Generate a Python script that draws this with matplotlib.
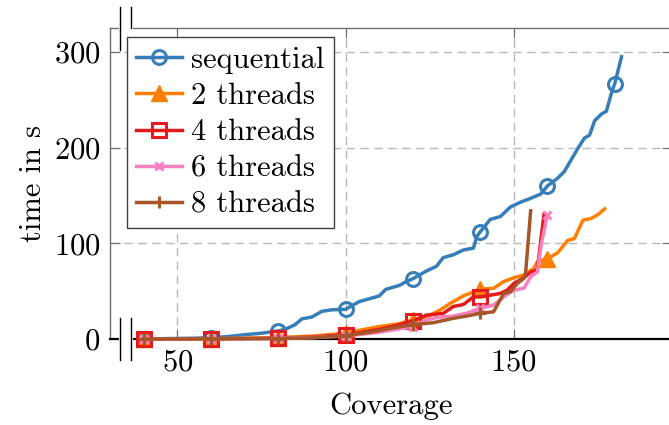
import numpy as np
import matplotlib
matplotlib.use("Agg")
import matplotlib.pyplot as plt
from matplotlib.lines import Line2D

plt.rcParams["font.family"] = "cmr10"
plt.rcParams["mathtext.fontset"] = "cm"
plt.rcParams["axes.formatter.use_mathtext"] = True

# run time over coverage
seq_x = [40, 45, 50, 55, 60, 65, 70, 75, 80, 82, 85, 87, 90, 93, 96, 100, 102, 104,
         106, 108, 110, 112, 114, 116, 118, 120, 122, 124, 127, 129, 132, 135, 138,
         139, 140, 143, 146, 149, 152, 155, 158, 160, 163, 165, 167, 169, 171, 172.5,
         174, 176, 177.5, 179, 180, 182]
seq_t = [0, 0.3, 0.6, 0.8, 1.3, 2.5, 4.5, 6, 8.5, 10, 15, 21, 23, 29, 30.5, 31, 35, 39,
         41, 43, 45, 52, 54, 56, 60, 63, 67, 71, 76, 85, 88, 93, 95,
         107, 112, 125, 128, 138, 143, 147, 151.5, 160, 168, 175, 187, 199, 210, 213,
         228, 235, 238, 257, 267, 295]

t2_x = [40, 50, 60, 70, 80, 90, 95, 100, 104, 110, 116, 120, 124, 128, 131, 135, 140,
        144, 147, 150, 153, 156, 157, 160, 163, 166, 168, 170.5, 173, 175, 177]
t2_t = [0, 0.2, 0.4, 0.8, 1.5, 3, 4.5, 6, 9, 13, 16, 20, 23, 30, 37, 45, 52,
        53, 60, 64, 67, 74, 81, 84, 90, 103, 105, 124, 126, 130, 136]

t4_x = [40, 50, 60, 70, 80, 90, 100, 105, 110, 115, 120, 124, 129, 132, 135, 138, 140,
        146, 148, 150, 153, 155, 157, 158, 159]
t4_t = [0, 0.1, 0.3, 0.5, 0.8, 2, 4.5, 7, 10, 14, 19, 25, 26.7, 34, 36, 44, 44,
        47.6, 51, 58, 64, 70, 72, 103, 131]

t6_x = [40, 50, 60, 70, 80, 90, 100, 105, 110, 115, 120, 124, 128, 132, 136, 140, 144,
        147, 150, 153, 155, 157, 158.2, 160]
t6_t = [0, 0.1, 0.2, 0.4, 0.7, 1.5, 3, 5, 7, 10, 13, 20, 23, 24, 27, 32, 35.5,
        44, 51, 53, 65, 70, 100, 130]

t8_x = [40, 50, 60, 70, 80, 90, 100, 108, 114, 120, 126, 132, 136, 140, 144, 147, 149,
        151, 153, 153.5, 155]
t8_t = [0, 0.1, 0.2, 0.3, 0.5, 1.2, 3.5, 7.5, 11.5, 15, 17, 21.6, 24, 26.8, 28.5, 47.6,
        49.4, 58, 63.4, 69, 134]

series = [
    ("sequential", seq_x, seq_t, "#377eb8", dict(marker="o", ms=10, fillstyle="none", mew=2.2)),
    ("2 threads", t2_x, t2_t, "#ff7f00", dict(marker="^", ms=11, mew=1.0)),
    ("4 threads", t4_x, t4_t, "#e41a1c", dict(marker="s", ms=9.5, fillstyle="none", mew=2.2)),
    ("6 threads", t6_x, t6_t, "#f781bf", dict(marker="x", ms=5.5, mew=2.2)),
    ("8 threads", t8_x, t8_t, "#a65628", dict(marker="+", ms=9, mew=2.2)),
]
mark_pos = [40, 60, 80, 100, 120, 140, 160, 180]

W, H = 669, 425
fig = plt.figure(figsize=(W / 100, H / 100), dpi=100)
ax = fig.add_axes([110 / W, 1 - 339 / H, (672 - 110) / W, (339 - 28) / H])

for label, xs, ts, color, mk in series:
    idx = [i for i, v in enumerate(xs) if v in mark_pos]
    ax.plot(xs, ts, color=color, lw=2.5, label=label, markevery=idx,
            clip_on=False, zorder=3, **mk)

ax.set_xlim(30, 197)
ax.set_ylim(0, 325)
ax.set_xticks([50, 100, 150])
ax.set_yticks([0, 100, 200, 300])

ax.grid(True, color="#b8b8b8", linestyle=(0, (6, 4)), lw=1.0)
ax.set_axisbelow(True)

gray = "#6e6e6e"
for side in ["left", "top", "right"]:
    ax.spines[side].set_color(gray)
    ax.spines[side].set_linewidth(1.0)
ax.spines["bottom"].set_color("black")
ax.spines["bottom"].set_linewidth(1.6)
ax.tick_params(direction="in", top=True, right=True, length=7, width=0.8,
               color=gray, labelsize=22, pad=7)

ax.set_xlabel("Coverage", fontsize=22, labelpad=12)
ax.set_ylabel("time in s", fontsize=22, labelpad=5)

leg = ax.legend(loc="upper left", bbox_to_anchor=(0.030, 0.971), borderaxespad=0,
                fontsize=22, fancybox=False, framealpha=1, edgecolor="#404040",
                handlelength=1.5, handletextpad=0.3, labelspacing=0.29,
                borderpad=0.3)
leg.get_frame().set_linewidth(1.0)

# axis break marks on the left
def px(x, y):
    return x / W, 1 - y / H

for yy in (28, 339):
    (x0, y0), (x1, y1) = px(120.5, yy), px(130.5, yy)
    fig.add_artist(Line2D([x0, x1], [y0, y1], color="white", lw=3, zorder=10))
for xx, ya, yb in [(120, 7, 50), (131, 7, 28), (120, 318, 360), (131, 318, 360)]:
    (x0, y0), (x1, y1) = px(xx, ya), px(xx, yb)
    fig.add_artist(Line2D([x0, x1], [y0, y1], color="black", lw=1.0, zorder=11))

fig.savefig("out.png", dpi=100)
